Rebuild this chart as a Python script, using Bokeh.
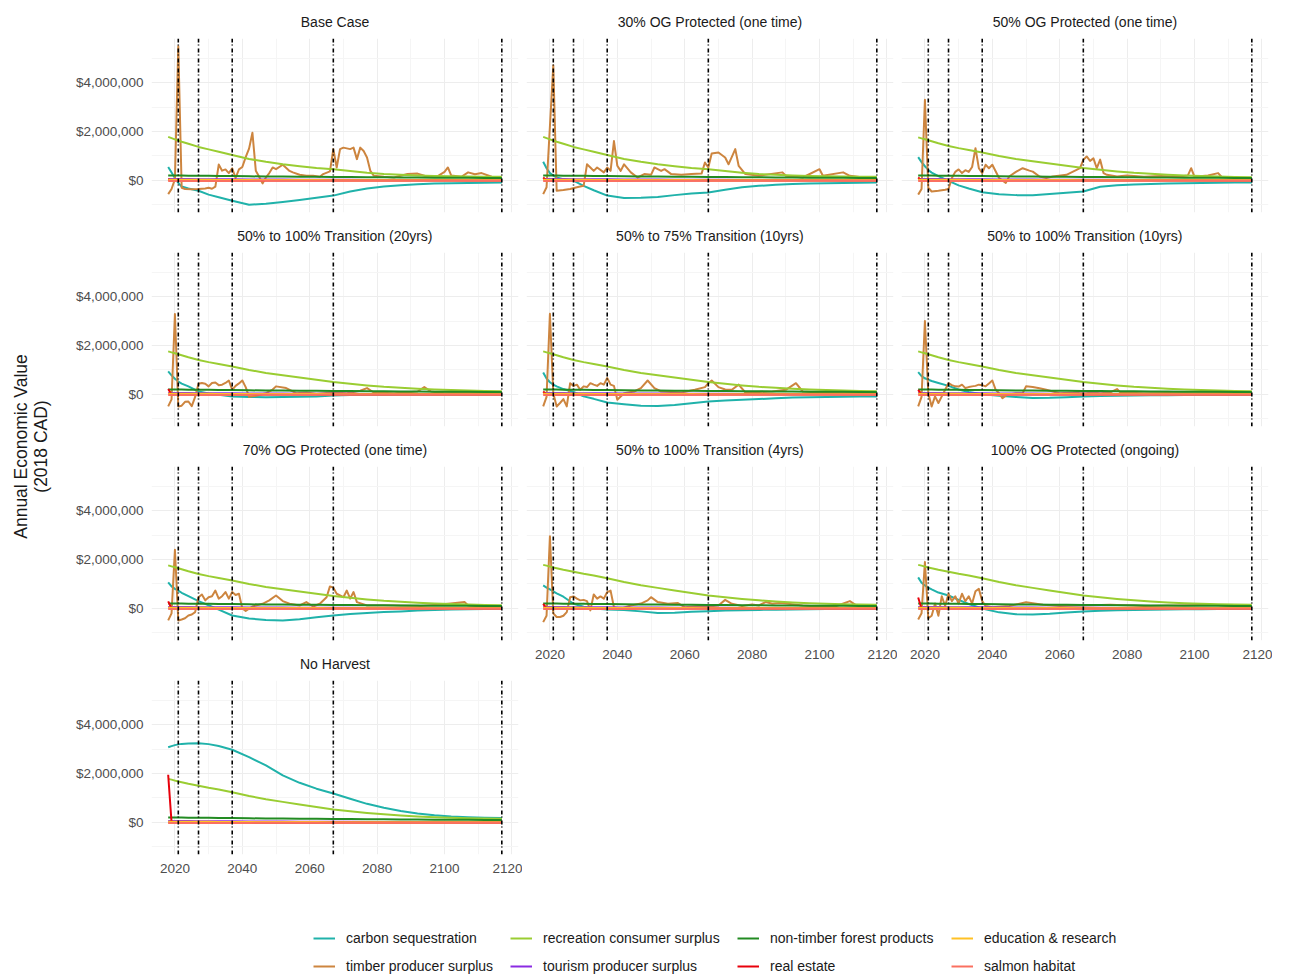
import numpy as np
from bokeh.plotting import figure
from bokeh.layouts import row, column
from bokeh.models import (Range1d, FixedTicker, NumeralTickFormatter, Span,
                          Legend, LegendItem)
from bokeh.embed import file_html
from bokeh.resources import INLINE
from bokeh.core.properties import value

FONT = "Liberation Sans"

# ---------------------------------------------------------------- data
SERIES = ["carbon sequestration", "timber producer surplus",
          "recreation consumer surplus", "tourism producer surplus",
          "non-timber forest products", "real estate",
          "education & research", "salmon habitat"]
COLORS = ["#20B2AA", "#CD853F", "#9ACD32", "#8A2BE2",
          "#228B22", "#E8000B", "#FFC125", "#FA7060"]

PANELS = ["Base Case", "30% OG Protected (one time)", "50% OG Protected (one time)",
          "50% to 100% Transition (20yrs)", "50% to 75% Transition (10yrs)",
          "50% to 100% Transition (10yrs)", "70% OG Protected (one time)",
          "50% to 100% Transition (4yrs)", "100% OG Protected (ongoing)", "No Harvest"]

VLINE_YEARS = [2021, 2027, 2037, 2067, 2117]
X_TICKS = [2020, 2040, 2060, 2080, 2100, 2120]
X_MINOR = [2030, 2050, 2070, 2090, 2110]
Y_TICKS = [0, 2000000, 4000000]
Y_MINOR = [-1000000, 1000000, 3000000, 5000000]

# values below are in millions of 2018 CAD
YR_S = [2018, 2019, 2020, 2021, 2022, 2024, 2027, 2030, 2033, 2037, 2042, 2047, 2052,
        2057, 2062, 2067, 2072, 2077, 2082, 2087, 2092, 2097, 2102, 2107, 2112, 2117]

REC_LOW = [1.78, 1.73, 1.68, 1.63, 1.58, 1.50, 1.37, 1.27, 1.17, 1.04, 0.88, 0.76, 0.66,
           0.58, 0.51, 0.46, 0.39, 0.31, 0.26, 0.23, 0.20, 0.18, 0.17, 0.16, 0.15, 0.15]
REC_MID = [1.76, 1.72, 1.68, 1.64, 1.60, 1.52, 1.41, 1.32, 1.24, 1.14, 1.00, 0.88, 0.78,
           0.69, 0.60, 0.51, 0.44, 0.37, 0.31, 0.27, 0.23, 0.20, 0.18, 0.16, 0.14, 0.13]
REC_HIGH = [1.78, 1.75, 1.71, 1.67, 1.64, 1.58, 1.50, 1.42, 1.35, 1.23, 1.08, 0.95, 0.84,
            0.73, 0.63, 0.53, 0.46, 0.39, 0.33, 0.28, 0.24, 0.21, 0.19, 0.17, 0.16, 0.15]
NTFP = [0.20, 0.20, 0.20, 0.20, 0.20, 0.19, 0.19, 0.19, 0.18, 0.18, 0.17, 0.16, 0.16,
        0.15, 0.15, 0.14, 0.14, 0.13, 0.13, 0.12, 0.12, 0.11, 0.11, 0.11, 0.10, 0.10]
TOURISM = [0.06, 0.06, 0.06, 0.06, 0.06, 0.06, 0.05, 0.05, 0.05, 0.05, 0.04, 0.04, 0.04,
           0.03, 0.03, 0.03, 0.03, 0.02, 0.02, 0.02, 0.02, 0.02, 0.02, 0.01, 0.01, 0.01]
EDUCATION = [0.03, 0.03, 0.03, 0.03, 0.03, 0.03, 0.03, 0.03, 0.02, 0.02, 0.02, 0.02, 0.02,
             0.02, 0.02, 0.01, 0.01, 0.01, 0.01, 0.01, 0.01, 0.01, 0.01, 0.01, 0.01, 0.01]
SALMON = [-0.02, -0.02, -0.02, -0.02, -0.02, -0.02, -0.02, -0.02, -0.02, -0.02, -0.02, -0.01, -0.01,
          -0.01, -0.01, -0.01, -0.01, -0.01, -0.01, -0.01, -0.01, -0.01, -0.01, -0.01, -0.01, -0.01]

BASE_CARBON = [0.55, 0.32, 0.10, -0.10, -0.25, -0.33, -0.42, -0.58, -0.69, -0.83, -0.99, -0.95, -0.88,
               -0.80, -0.71, -0.62, -0.45, -0.33, -0.25, -0.20, -0.16, -0.13, -0.11, -0.10, -0.09, -0.08]
OG30_CARBON = [0.76, 0.50, 0.30, 0.20, 0.12, 0.05, -0.01, -0.22, -0.40, -0.62, -0.72, -0.71, -0.68,
               -0.60, -0.53, -0.49, -0.38, -0.28, -0.22, -0.18, -0.15, -0.13, -0.11, -0.10, -0.09, -0.08]
OG50_CARBON = [0.95, 0.75, 0.58, 0.43, 0.32, 0.18, -0.02, -0.20, -0.33, -0.48, -0.56, -0.60, -0.61,
               -0.55, -0.50, -0.45, -0.26, -0.20, -0.17, -0.15, -0.13, -0.11, -0.10, -0.09, -0.08, -0.08]
T20_CARBON = [0.94, 0.78, 0.64, 0.53, 0.44, 0.33, 0.12, 0.04, -0.01, -0.08, -0.10, -0.11, -0.10,
              -0.09, -0.08, -0.04, -0.02, -0.02, -0.02, -0.01, -0.01, -0.01, -0.01, -0.01, -0.01, -0.01]
T75_CARBON = [0.90, 0.65, 0.50, 0.40, 0.33, 0.22, 0.10, -0.08, -0.18, -0.33, -0.40, -0.46, -0.47,
              -0.43, -0.36, -0.29, -0.25, -0.22, -0.19, -0.16, -0.12, -0.11, -0.10, -0.09, -0.08, -0.08]
T10_CARBON = [0.91, 0.75, 0.66, 0.60, 0.55, 0.47, 0.35, 0.20, 0.10, 0.01, -0.05, -0.10, -0.15,
              -0.14, -0.11, -0.08, -0.06, -0.05, -0.04, -0.03, -0.03, -0.02, -0.02, -0.02, -0.02, -0.02]
OG70_CARBON = [1.07, 0.90, 0.80, 0.73, 0.64, 0.50, 0.30, 0.13, -0.05, -0.29, -0.41, -0.47, -0.49,
               -0.44, -0.36, -0.29, -0.23, -0.19, -0.15, -0.12, -0.08, -0.06, -0.04, -0.03, -0.02, -0.01]
T4_CARBON = [0.94, 0.85, 0.78, 0.70, 0.62, 0.48, 0.19, 0.07, 0.00, -0.04, -0.06, -0.12, -0.19,
             -0.18, -0.14, -0.11, -0.08, -0.07, -0.06, -0.05, -0.04, -0.03, -0.02, -0.02, -0.01, -0.01]
OG100_CARBON = [1.27, 1.05, 0.94, 0.85, 0.78, 0.65, 0.53, 0.35, 0.18, 0.00, -0.16, -0.24, -0.25,
                -0.22, -0.17, -0.12, -0.09, -0.07, -0.06, -0.05, -0.04, -0.03, -0.03, -0.02, -0.02, -0.01]
NOHARV_CARBON = [3.07, 3.12, 3.16, 3.19, 3.21, 3.23, 3.24, 3.20, 3.12, 2.97, 2.67, 2.33, 1.92,
                 1.62, 1.38, 1.18, 0.97, 0.76, 0.60, 0.47, 0.37, 0.29, 0.24, 0.21, 0.19, 0.18]

ESTATE_YR = [2018, 2019, 2117]
BASE_ESTATE = [0.05, 0.0, 0.0]
OG30_ESTATE = [0.12, 0.0, 0.0]
OG50_ESTATE = [0.12, 0.0, 0.0]
T20_ESTATE = [0.22, 0.0, 0.0]
T75_ESTATE = [0.12, 0.0, 0.0]
T10_ESTATE = [0.19, 0.0, 0.0]
OG70_ESTATE = [0.29, 0.0, 0.0]
T4_ESTATE = [0.19, 0.0, 0.0]
OG100_ESTATE = [0.45, 0.0, 0.0]
NOHARV_ESTATE = [1.95, 0.0, 0.0]

BASE_TIMBER_YR = [2018, 2019, 2020, 2021, 2022, 2023, 2025, 2027, 2029, 2030,
                  2031, 2032, 2033, 2034, 2035, 2036, 2037, 2038, 2039, 2040,
                  2041, 2042, 2043, 2044, 2045, 2046, 2047, 2048, 2049, 2050,
                  2052, 2054, 2055, 2057, 2059, 2061, 2063, 2064, 2066, 2067,
                  2068, 2069, 2070, 2072, 2073, 2074, 2075, 2076, 2077, 2078,
                  2079, 2082, 2085, 2089, 2092, 2095, 2098, 2100, 2101, 2102,
                  2105, 2107, 2109, 2111, 2114, 2117]
BASE_TIMBER = [-0.56, -0.35, 0.05, 5.48, -0.30, -0.35, -0.36, -0.35, -0.33, -0.30,
               -0.34, -0.25, 0.65, 0.40, 0.45, 0.30, 0.50, 0.10, 0.45, 0.55,
               0.95, 1.30, 1.95, 0.40, 0.15, -0.12, 0.12, 0.30, 0.53, 0.46,
               0.64, 0.39, 0.33, 0.23, 0.19, 0.19, 0.15, 0.26, 0.37, 1.28,
               0.53, 1.28, 1.34, 1.28, 1.34, 0.87, 1.34, 1.20, 0.94, 0.39,
               0.19, 0.15, 0.12, 0.26, 0.28, 0.15, 0.18, 0.35, 0.53, 0.20,
               0.15, 0.33, 0.25, 0.30, 0.15, 0.05]

OG30_TIMBER_YR = [2018, 2019, 2021, 2022, 2024, 2026, 2028, 2030, 2031, 2032,
                  2033, 2034, 2036, 2037, 2038, 2039, 2040, 2041, 2042, 2044,
                  2046, 2048, 2050, 2051, 2053, 2054, 2056, 2059, 2062, 2065,
                  2066, 2067, 2068, 2070, 2072, 2073, 2075, 2076, 2078, 2082,
                  2089, 2090, 2095, 2100, 2101, 2107, 2109, 2117]
OG30_TIMBER = [-0.56, -0.28, 4.70, -0.42, -0.39, -0.35, -0.28, -0.22, 0.66, 0.53,
               0.39, 0.53, 0.33, 0.53, 0.39, 1.61, 0.60, 0.39, 0.66, 0.33,
               0.12, 0.26, 0.23, 0.53, 0.39, 0.46, 0.26, 0.23, 0.26, 0.28,
               0.73, 0.53, 1.10, 1.14, 0.94, 0.66, 1.28, 0.60, 0.26, 0.19,
               0.33, 0.19, 0.12, 0.46, 0.19, 0.33, 0.19, 0.05]

OG50_TIMBER_YR = [2018, 2019, 2020, 2021, 2022, 2024, 2026, 2027, 2028, 2029,
                  2030, 2031, 2032, 2033, 2034, 2035, 2036, 2037, 2038, 2039,
                  2040, 2042, 2044, 2045, 2047, 2049, 2051, 2052, 2054, 2056,
                  2058, 2062, 2065, 2066, 2067, 2068, 2069, 2070, 2071, 2072,
                  2073, 2074, 2077, 2080, 2085, 2090, 2095, 2098, 2099, 2100,
                  2104, 2107, 2108, 2112, 2117]
OG50_TIMBER = [-0.58, -0.35, 3.30, -0.30, -0.45, -0.42, -0.38, -0.35, 0.10, 0.35,
               0.45, 0.30, 0.42, 0.35, 0.55, 1.32, 0.50, 0.30, 0.64, 0.50,
               0.64, 0.10, -0.10, 0.16, 0.35, 0.50, 0.40, 0.36, 0.16, 0.10,
               0.16, 0.23, 0.43, 0.50, 0.84, 0.98, 0.80, 0.90, 0.50, 0.85,
               0.30, 0.23, 0.16, 0.20, 0.15, 0.18, 0.15, 0.20, 0.50, 0.15,
               0.20, 0.30, 0.15, 0.12, 0.05]

T20_TIMBER_YR = [2018, 2019, 2020, 2021, 2022, 2023, 2024, 2025, 2026, 2027,
                 2028, 2029, 2030, 2031, 2032, 2033, 2034, 2035, 2036, 2037,
                 2038, 2039, 2040, 2041, 2042, 2044, 2047, 2049, 2050, 2053,
                 2056, 2059, 2062, 2067, 2071, 2075, 2077, 2079, 2085, 2092,
                 2094, 2096, 2100, 2107, 2112, 2117]
T20_TIMBER = [-0.49, -0.20, 3.29, -0.49, -0.46, -0.30, -0.29, -0.48, -0.10, 0.44,
              0.47, 0.44, 0.33, 0.47, 0.49, 0.38, 0.40, 0.47, 0.57, 0.19,
              0.35, 0.45, 0.57, 0.30, -0.10, -0.05, 0.05, 0.20, 0.33, 0.26,
              0.05, 0.08, 0.03, 0.08, 0.05, 0.15, 0.26, 0.08, 0.05, 0.12,
              0.30, 0.12, 0.05, 0.08, 0.05, 0.03]

T75_TIMBER_YR = [2018, 2019, 2020, 2021, 2022, 2023, 2024, 2025, 2026, 2027,
                 2028, 2029, 2030, 2031, 2032, 2033, 2034, 2035, 2036, 2037,
                 2038, 2039, 2040, 2042, 2045, 2047, 2049, 2051, 2053, 2056,
                 2059, 2063, 2066, 2067, 2068, 2070, 2072, 2074, 2076, 2078,
                 2082, 2086, 2090, 2093, 2095, 2100, 2105, 2110, 2117]
T75_TIMBER = [-0.49, -0.10, 3.30, 0.05, -0.49, -0.35, -0.19, -0.49, 0.46, 0.35,
              0.40, 0.19, 0.33, 0.30, 0.46, 0.40, 0.35, 0.46, 0.40, 0.67,
              0.40, 0.35, -0.22, 0.05, 0.12, 0.26, 0.57, 0.26, 0.12, 0.10,
              0.08, 0.19, 0.30, 0.46, 0.57, 0.30, 0.20, 0.19, 0.40, 0.08,
              0.10, 0.12, 0.19, 0.46, 0.12, 0.08, 0.06, 0.08, 0.03]

T10_TIMBER_YR = [2018, 2019, 2020, 2021, 2022, 2023, 2024, 2025, 2026, 2027,
                 2028, 2029, 2030, 2031, 2032, 2033, 2034, 2035, 2036, 2037,
                 2038, 2039, 2040, 2041, 2042, 2043, 2044, 2045, 2047, 2049,
                 2050, 2052, 2054, 2056, 2060, 2064, 2067, 2072, 2075, 2077,
                 2078, 2085, 2092, 2100, 2108, 2117]
T10_TIMBER = [-0.49, -0.10, 3.00, 0.05, -0.49, -0.08, -0.35, -0.08, 0.19, 0.46,
              0.38, 0.33, 0.32, 0.40, 0.26, 0.30, 0.33, 0.35, 0.40, 0.38,
              0.33, 0.45, 0.57, 0.19, 0.05, -0.15, -0.05, 0.00, 0.05, 0.05,
              0.33, 0.30, 0.25, 0.19, 0.05, 0.08, 0.12, 0.05, 0.08, 0.22,
              0.08, 0.05, 0.06, 0.05, 0.06, 0.03]

OG70_TIMBER_YR = [2018, 2019, 2020, 2021, 2022, 2023, 2024, 2025, 2026, 2027,
                  2028, 2029, 2030, 2031, 2032, 2033, 2034, 2035, 2036, 2037,
                  2038, 2039, 2040, 2041, 2043, 2046, 2048, 2050, 2052, 2054,
                  2057, 2059, 2061, 2063, 2065, 2066, 2067, 2068, 2070, 2071,
                  2072, 2073, 2074, 2077, 2085, 2093, 2099, 2106, 2107, 2112,
                  2117]
OG70_TIMBER = [-0.49, -0.20, 2.40, -0.49, -0.45, -0.40, -0.29, -0.25, -0.15, 0.46,
               0.57, 0.33, 0.46, 0.50, 0.73, 0.40, 0.50, 0.67, 0.40, 0.67,
               0.55, 0.60, 0.00, -0.10, 0.08, 0.19, 0.33, 0.53, 0.30, 0.19,
               0.12, 0.26, 0.08, 0.19, 0.46, 0.90, 0.85, 0.60, 0.46, 0.73,
               0.40, 0.67, 0.26, 0.12, 0.12, 0.10, 0.16, 0.26, 0.12, 0.08,
               0.05]

T4_TIMBER_YR = [2018, 2019, 2020, 2021, 2022, 2023, 2024, 2025, 2026, 2027,
                2028, 2029, 2030, 2031, 2032, 2033, 2034, 2035, 2036, 2037,
                2038, 2039, 2041, 2044, 2047, 2049, 2050, 2052, 2055, 2058,
                2060, 2064, 2067, 2070, 2072, 2074, 2077, 2080, 2082, 2084,
                2086, 2088, 2090, 2095, 2100, 2105, 2109, 2111, 2117]
T4_TIMBER = [-0.56, -0.30, 2.95, -0.20, -0.35, -0.35, -0.30, -0.15, 0.46, 0.49,
             0.40, 0.33, 0.35, 0.30, -0.08, 0.57, 0.40, 0.49, 0.40, 0.67,
             0.73, 0.05, -0.01, 0.12, 0.20, 0.33, 0.46, 0.26, 0.19, 0.22,
             0.05, 0.10, 0.08, 0.12, 0.35, 0.19, 0.10, 0.16, 0.12, 0.26,
             0.19, 0.22, 0.20, 0.12, 0.08, 0.10, 0.30, 0.12, 0.05]

OG100_TIMBER_YR = [2018, 2019, 2020, 2021, 2022, 2023, 2024, 2025, 2026, 2027,
                   2028, 2029, 2030, 2031, 2032, 2033, 2034, 2035, 2036, 2037,
                   2038, 2040, 2045, 2050, 2055, 2060, 2067, 2075, 2085, 2095,
                   2105, 2117]
OG100_TIMBER = [-0.45, -0.20, 1.90, -0.40, -0.30, 0.20, -0.30, 0.50, 0.10, 0.60,
                0.30, 0.50, 0.20, 0.60, 0.30, 0.50, 0.20, 0.70, 0.80, 0.30,
                0.10, 0.05, 0.10, 0.25, 0.15, 0.10, 0.12, 0.15, 0.10, 0.12,
                0.15, 0.05]

NOHARV_TIMBER_YR = [2018, 2117]
NOHARV_TIMBER = [0.0, 0.0]

PANEL_CARBON = [BASE_CARBON, OG30_CARBON, OG50_CARBON, T20_CARBON, T75_CARBON,
                T10_CARBON, OG70_CARBON, T4_CARBON, OG100_CARBON, NOHARV_CARBON]
PANEL_TIMBER = [(BASE_TIMBER_YR, BASE_TIMBER), (OG30_TIMBER_YR, OG30_TIMBER),
                (OG50_TIMBER_YR, OG50_TIMBER), (T20_TIMBER_YR, T20_TIMBER),
                (T75_TIMBER_YR, T75_TIMBER), (T10_TIMBER_YR, T10_TIMBER),
                (OG70_TIMBER_YR, OG70_TIMBER), (T4_TIMBER_YR, T4_TIMBER),
                (OG100_TIMBER_YR, OG100_TIMBER), (NOHARV_TIMBER_YR, NOHARV_TIMBER)]
PANEL_REC = [REC_LOW, REC_LOW, REC_MID, REC_MID, REC_MID,
             REC_MID, REC_MID, REC_HIGH, REC_HIGH, REC_HIGH]
PANEL_ESTATE = [BASE_ESTATE, OG30_ESTATE, OG50_ESTATE, T20_ESTATE, T75_ESTATE,
                T10_ESTATE, OG70_ESTATE, T4_ESTATE, OG100_ESTATE, NOHARV_ESTATE]

# ---------------------------------------------------------------- layout
X_RANGE = (2013.05, 2121.95)
Y_RANGE = (-1.31e6, 5.80e6)
FRAME_W, FRAME_H = 367, 174
YLAB_W = 60
GRID_POS = [(0, 0), (1, 0), (2, 0), (0, 1), (1, 1), (2, 1), (0, 2), (1, 2), (2, 2), (0, 3)]
BOTTOM_ROW = {0: 3, 1: 2, 2: 2}


def panel_lines(i):
    """(years, values in millions) for each series of panel i, in legend order."""
    ty, tv = PANEL_TIMBER[i]
    return [(YR_S, PANEL_CARBON[i]), (ty, tv), (YR_S, PANEL_REC[i]), (YR_S, TOURISM),
            (YR_S, NTFP), (ESTATE_YR, PANEL_ESTATE[i]), (YR_S, EDUCATION), (YR_S, SALMON)]


def make_panel(i):
    col, r = GRID_POS[i]
    show_x = BOTTOM_ROW[col] == r
    show_y = col == 0
    top = 38 if r == 0 else 36
    bottom = 26 if show_x else 4
    left = 151 - YLAB_W if show_y else 4
    right = 4
    p = figure(width=left + FRAME_W + right, height=top + FRAME_H + bottom,
               x_range=Range1d(*X_RANGE), y_range=Range1d(*Y_RANGE),
               output_backend="svg", toolbar_location=None, title=PANELS[i],
               min_border_left=left, min_border_right=right,
               min_border_top=top, min_border_bottom=bottom)
    p.outline_line_color = None
    p.background_fill_color = "white"
    p.border_fill_color = "white"

    p.title.align = "center"
    p.title.text_font = FONT
    p.title.text_font_size = "14px"
    p.title.text_font_style = "normal"
    p.title.text_color = "#1A1A1A"
    p.title.standoff = 17

    xt = FixedTicker(ticks=X_TICKS, minor_ticks=X_MINOR)
    yt = FixedTicker(ticks=Y_TICKS, minor_ticks=Y_MINOR)
    p.xaxis.ticker = xt
    p.yaxis.ticker = yt
    p.xgrid.ticker = xt
    p.ygrid.ticker = yt
    for g in (p.xgrid, p.ygrid):
        g.grid_line_color = "#EDEDED"
        g.grid_line_width = 1
        g.minor_grid_line_color = "#F5F5F5"
        g.minor_grid_line_width = 1
    p.yaxis.formatter = NumeralTickFormatter(format="$0,0")
    for ax in (p.xaxis, p.yaxis):
        ax.axis_line_color = None
        ax.major_tick_line_color = None
        ax.minor_tick_line_color = None
        ax.major_tick_out = 0
        ax.major_tick_in = 0
        ax.minor_tick_out = 0
        ax.minor_tick_in = 0
        ax.major_label_text_font = FONT
        ax.major_label_text_font_size = "13.5px"
        ax.major_label_text_color = "#4D4D4D"
    p.xaxis.major_label_standoff = 9
    p.yaxis.major_label_standoff = 8
    p.xaxis.visible = show_x
    p.yaxis.visible = show_y

    for (yrs, vals), color in zip(panel_lines(i), COLORS):
        p.line(x=yrs, y=np.asarray(vals) * 1e6, line_color=color, line_width=2,
               line_join="round")

    for yv in VLINE_YEARS:
        p.add_layout(Span(location=yv, dimension="height", line_color="black",
                          line_width=1.6, line_dash="4 2 1 3"))
    return p


panels = [make_panel(i) for i in range(len(PANELS))]

# y-axis title shared by all facets
PANEL_AREA_H = 880
ylab = figure(width=YLAB_W, height=PANEL_AREA_H, x_range=Range1d(0, YLAB_W),
              y_range=Range1d(0, PANEL_AREA_H), output_backend="svg",
              toolbar_location=None, min_border=0)
ylab.axis.visible = False
ylab.grid.visible = False
ylab.outline_line_color = None
ylab.text(x=[20, 40], y=[434, 434], text=["Annual Economic Value", "(2018 CAD)"],
          angle=np.pi / 2, text_align="center", text_baseline="middle",
          text_font=value(FONT), text_font_size="17.5px", text_color="#1A1A1A")

cols = [column(*[panels[i] for i in range(len(PANELS)) if GRID_POS[i][0] == c], spacing=0)
        for c in range(3)]
top = row(ylab, *cols, spacing=0)

# legend strip at the bottom; the key renderers hold no visible points
LEGEND_X = [313, 510, 737, 951]
LEGEND_GROUPS = [[0, 1], [2, 3], [4, 5], [6, 7]]
leg = figure(width=1272, height=96, x_range=Range1d(0, 1), y_range=Range1d(0, 1),
             output_backend="svg", toolbar_location=None, min_border=0)
leg.axis.visible = False
leg.grid.visible = False
leg.outline_line_color = None
keys = [leg.line(x=[float("nan")], y=[float("nan")], line_color=c, line_width=2)
        for c in COLORS]
for xpos, grp in zip(LEGEND_X, LEGEND_GROUPS):
    lg = Legend(items=[LegendItem(label=SERIES[k], renderers=[keys[k]]) for k in grp],
                location=(xpos, 0), orientation="vertical", padding=0, margin=0,
                spacing=8, glyph_width=22, glyph_height=20, label_height=20,
                label_standoff=11, label_text_font=FONT, label_text_font_size="14px",
                label_text_color="#1A1A1A", border_line_color=None,
                background_fill_alpha=0)
    leg.add_layout(lg)

page = column(top, leg, spacing=0)

with open("out.html", "w") as f:
    f.write(file_html(page, INLINE))
